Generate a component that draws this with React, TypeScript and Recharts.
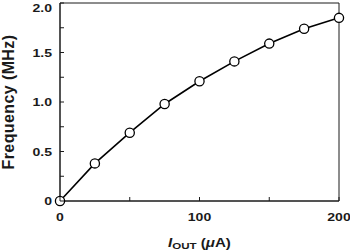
import { LineChart, Line, XAxis, YAxis, ReferenceArea, Label } from 'recharts';

// I_OUT (µA) vs frequency (MHz)
const currents = [0, 25, 50, 75, 100, 125, 150, 175, 200];
const frequency = [0, 0.38, 0.69, 0.98, 1.21, 1.41, 1.59, 1.74, 1.85];

const xTicks = [0, 50, 100, 150, 200];
const xLabeled = [0, 100, 200];
const yTicks = [0, 0.25, 0.5, 0.75, 1, 1.25, 1.5, 1.75, 2];
const yLabeled = [0, 0.5, 1, 1.5, 2];

const data = currents.map((c, i) => ({ current: c, freq: frequency[i] }));

const FONT = '"Liberation Sans", Arial, Helvetica, sans-serif';
const INK = '#1a1a1a';

const XTick = (props: any) => {
  const { x, y, payload } = props;
  const v = payload.value;
  return (
    <g>
      <line x1={x} x2={x} y1={y} y2={y - 4} stroke={INK} />
      {xLabeled.includes(v) && (
        <text
          transform={`translate(${x},${y + 19.7}) scale(1.2,1)`}
          textAnchor="middle"
          fontFamily={FONT}
          fontWeight="bold"
          fontSize={11.7}
          fill={INK}
        >
          {v}
        </text>
      )}
    </g>
  );
};

const YTick = (props: any) => {
  const { x, y, payload } = props;
  const v = payload.value;
  const txt = v === 0 ? '0' : v.toFixed(1);
  // keep the top label inside the picture, as in the reference
  const base = Math.max(y + 4.2, 11.8);
  return (
    <g>
      <line x1={x} x2={x + 4} y1={y} y2={y} stroke={INK} />
      {yLabeled.includes(v) && (
        <text
          transform={`translate(${x - 8},${base}) scale(1.2,1)`}
          textAnchor="end"
          fontFamily={FONT}
          fontWeight="bold"
          fontSize={11.7}
          fill={INK}
        >
          {txt}
        </text>
      )}
    </g>
  );
};

const XTitle = (props: any) => {
  const { viewBox } = props;
  const cx = viewBox.x + viewBox.width / 2;
  return (
    <text
      transform={`translate(${cx},247.3) scale(1.18,1)`}
      textAnchor="middle"
      fontFamily={FONT}
      fontWeight="bold"
      fontSize={12.8}
      fill={INK}
    >
      <tspan fontStyle="italic">I</tspan>
      <tspan fontSize={9.8} dy={1.8}>OUT</tspan>
      <tspan dy={-1.8}> (</tspan>
      <tspan fontStyle="italic">μ</tspan>
      <tspan>A)</tspan>
    </text>
  );
};

const YTitle = (props: any) => {
  const { viewBox } = props;
  const cy = viewBox.y + viewBox.height / 2;
  return (
    <text
      transform={`translate(14,${cy}) rotate(-90)`}
      textAnchor="middle"
      fontFamily={FONT}
      fontWeight="bold"
      fontSize={16}
      letterSpacing={0.4}
      fill={INK}
    >
      Frequency (MHz)
    </text>
  );
};

export default function App() {
  return (
    <div style={{ position: 'absolute', left: 0, top: 0, background: '#fff' }}>
      <LineChart width={350} height={250} data={data} margin={{ top: 3, right: 11, bottom: 0, left: 0 }}>
        <XAxis
          dataKey="current"
          type="number"
          domain={[0, 200]}
          ticks={xTicks}
          tick={<XTick />}
          tickSize={0}
          tickMargin={0}
          tickLine={false}
          axisLine={{ stroke: INK }}
          height={49}
          interval={0}
        >
          <Label content={<XTitle />} />
        </XAxis>
        <YAxis
          type="number"
          domain={[0, 2]}
          ticks={yTicks}
          tick={<YTick />}
          tickSize={0}
          tickMargin={0}
          tickLine={false}
          axisLine={{ stroke: INK }}
          width={60}
          interval={0}
        >
          <Label content={<YTitle />} />
        </YAxis>
        <ReferenceArea x1={0} x2={200} y1={0} y2={2} fill="none" stroke={INK} strokeWidth={1} />
        <Line
          type="linear"
          dataKey="freq"
          stroke="#000"
          strokeWidth={1.6}
          dot={{ r: 4.6, fill: '#fff', stroke: '#000', strokeWidth: 1.3 }}
          isAnimationActive={false}
        />
      </LineChart>
    </div>
  );
}
